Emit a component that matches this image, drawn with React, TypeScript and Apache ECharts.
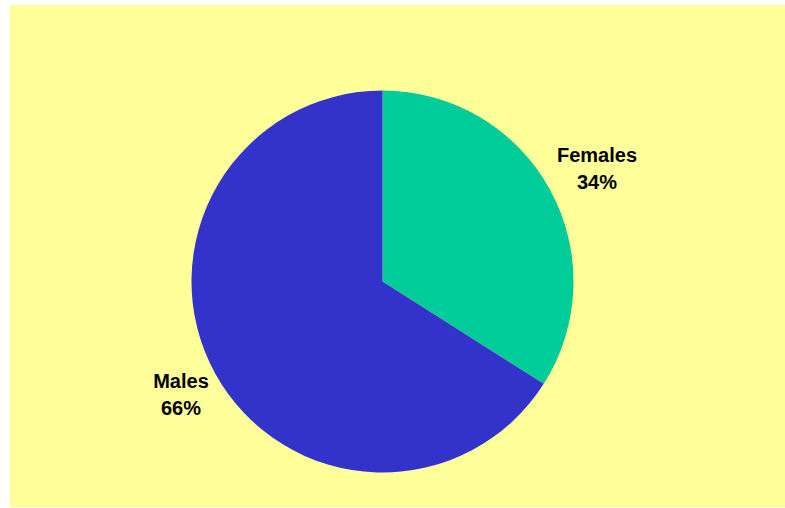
import React, { useEffect, useRef } from "react";
import * as echarts from "echarts";

const categories = ["Females", "Males"];
const values = [34, 66];
const colors = ["#00CC99", "#3333CC"];
const labelAnchors = [
  [597, 168],
  [181, 394],
];

export default function App() {
  const ref = useRef<HTMLDivElement>(null);
  useEffect(() => {
    if (!ref.current) return;
    const chart = echarts.init(ref.current, null, { renderer: "svg" });
    chart.setOption({
      animation: false,
      backgroundColor: "#FFFFFF",
      graphic: [
        {
          type: "rect",
          z: -10,
          silent: true,
          shape: { x: 10, y: 5, width: 775, height: 502 },
          style: { fill: "#FFFF99" },
        },
      ],
      series: [
        {
          type: "pie",
          center: [382.5, 281.5],
          radius: 191,
          startAngle: 90,
          clockwise: true,
          z: 2,
          data: categories.map((name, i) => ({
            name,
            value: values[i],
            itemStyle: { color: colors[i] },
          })),
          itemStyle: { borderWidth: 0 },
          emphasis: { disabled: true },
          labelLine: { show: false },
          label: {
            show: true,
            position: "outside",
            formatter: "{a|{b}}\n{a|{d}%}",
            rich: {
              a: {
                fontFamily: "'Liberation Sans', Arial, sans-serif",
                fontWeight: "bold",
                fontSize: 20,
                lineHeight: 27,
                color: "#000000",
                align: "center",
              },
            },
          },
          labelLayout: (params: any) => {
            const p = labelAnchors[params.dataIndex];
            return { x: p[0], y: p[1], align: "center", verticalAlign: "middle" };
          },
        },
      ],
    });
    return () => chart.dispose();
  }, []);
  return (
    <div
      ref={ref}
      style={{ position: "absolute", left: 0, top: 0, width: 785, height: 508 }}
    />
  );
}
